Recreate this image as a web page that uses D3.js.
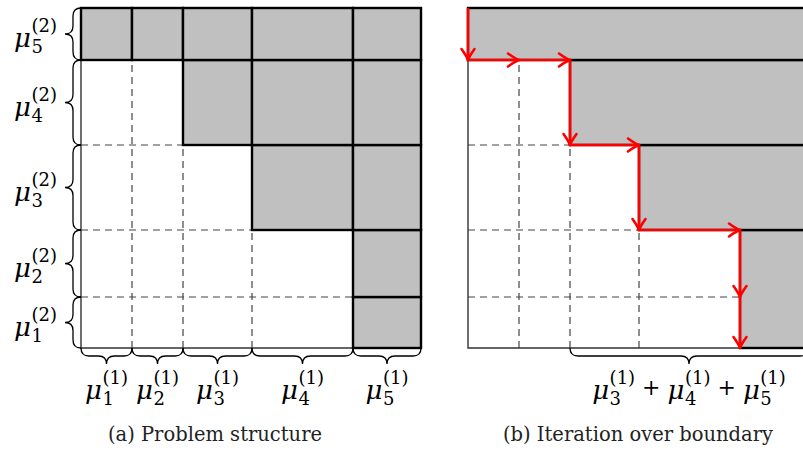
<!DOCTYPE html>
<html><head><meta charset="utf-8">
<script src="https://cdn.jsdelivr.net/npm/d3@7"></script>
<style>body{margin:0;background:#fff}</style>
</head><body>
<svg id="fig" width="803" height="452"></svg>
<script>
// Block sizes along each dimension (index 0 = block 1)
const mu1 = [51, 51, 69, 101, 68];   // column widths  μ^(1)_1..μ^(1)_5
const mu2 = [51, 67, 85, 85, 52];    // row heights    μ^(2)_1..μ^(2)_5 (bottom to top)
// First shaded column of every row, bottom to top
const firstShaded = [4, 4, 3, 2, 0];
const colIds = ["1", "2", "3", "4", "5"];
const rowIds = ["1", "2", "3", "4", "5"];
const bracedCols = [2, 3, 4];        // columns summed under panel (b)
const captions = ["(a) Problem structure", "(b) Iteration over boundary"];

const SERIF = "'DejaVu Serif', serif";
const svg = d3.select("#fig");

const colEdges = [0, ...d3.cumsum(mu1)];
const rowEdges = [0, ...d3.cumsum(mu2)];
const total = colEdges[colEdges.length - 1];

const y = d3.scaleLinear().domain([0, d3.sum(mu2)]).range([348, 8]);
const xa = d3.scaleLinear().domain([0, total]).range([81, 421]);
const xb = d3.scaleLinear().domain([0, total]).range([468, 808]);

const nR = mu2.length, nC = mu1.length;
const white = (r, c) => c < firstShaded[r];

// curly brace from p1 to p2, bulging along unit normal n
function bracePath(p1, p2, n, amp) {
  const dx = p2[0] - p1[0], dy = p2[1] - p1[1];
  const L = Math.hypot(dx, dy), ux = dx / L, uy = dy / L, r = amp / 2;
  const P = (u, v) => [p1[0] + u * ux + v * n[0], p1[1] + u * uy + v * n[1]].map(d => d.toFixed(2)).join(",");
  return `M${P(0,0)}Q${P(0,r)} ${P(r,r)}L${P(L/2-r,r)}Q${P(L/2,r)} ${P(L/2,2*r)}` +
         `Q${P(L/2,r)} ${P(L/2+r,r)}L${P(L-r,r)}Q${P(L,r)} ${P(L,0)}`;
}

// μ with subscript and superscript; returns its width
function muTerm(g, x, base, sub, sup) {
  const m = g.append("text").attr("x", x).attr("y", base)
    .attr("font-family", SERIF).attr("font-style", "italic").attr("font-size", 26).text("μ");
  const w = m.node().getComputedTextLength();
  const sx = x + w + 0.5;
  const tp = g.append("text").attr("x", sx).attr("y", base - 15)
    .attr("font-family", SERIF).attr("font-size", 18).text(`(${sup})`);
  const tb = g.append("text").attr("x", sx).attr("y", base + 6)
    .attr("font-family", SERIF).attr("font-size", 18).text(sub);
  return w + 0.5 + Math.max(tp.node().getComputedTextLength(), tb.node().getComputedTextLength());
}

// sum of μ terms, placed with its centre / right edge at x
function mathLabel(parent, x, base, terms, sup, anchor) {
  const g = parent.append("g");
  let cx = 0;
  terms.forEach((t, i) => {
    if (i > 0) {
      cx += 7;
      const p = g.append("text").attr("x", cx).attr("y", base - 4)
        .attr("font-family", SERIF).attr("font-size", 22).text("+");
      cx += p.node().getComputedTextLength() + 7;
    }
    cx += muTerm(g, cx, base, t, sup);
  });
  const dx = anchor === "middle" ? x - cx / 2 : x - cx;
  g.attr("transform", `translate(${dx},0)`);
}

function drawGrid(g, x) {
  // dashed lines between white cells
  const dash = g.append("g").attr("stroke", "#444").attr("stroke-width", 1.2)
    .attr("stroke-dasharray", "7,5").attr("fill", "none");
  for (let c = 1; c < nC; c++) {
    const rows = d3.range(nR).filter(r => white(r, c));
    if (rows.length) dash.append("line")
      .attr("x1", x(colEdges[c])).attr("x2", x(colEdges[c]))
      .attr("y1", y(0)).attr("y2", y(rowEdges[d3.max(rows) + 1]));
  }
  for (let r = 1; r < nR; r++) {
    const lim = Math.min(firstShaded[r - 1], firstShaded[r]);
    if (lim > 0) dash.append("line")
      .attr("x1", x(0)).attr("x2", x(colEdges[lim]))
      .attr("y1", y(rowEdges[r])).attr("y2", y(rowEdges[r]));
  }
  // outer left / bottom border of the white region
  const rowsWhite = d3.range(nR).filter(r => firstShaded[r] > 0);
  g.append("path").attr("fill", "none").attr("stroke", "#333").attr("stroke-width", 1.4)
    .attr("d", d3.line()([[x(0), y(rowEdges[d3.max(rowsWhite) + 1])], [x(0), y(0)], [x(colEdges[firstShaded[0]]), y(0)]]));
}

/* ---------- panel (a) ---------- */
const A = svg.append("g");
drawGrid(A, xa);
const cells = [];
for (let r = 0; r < nR; r++) for (let c = firstShaded[r]; c < nC; c++) cells.push({r, c});
A.selectAll("rect.cell").data(cells).join("rect").attr("class", "cell")
  .attr("x", d => xa(colEdges[d.c])).attr("width", d => xa(colEdges[d.c + 1]) - xa(colEdges[d.c]))
  .attr("y", d => y(rowEdges[d.r + 1])).attr("height", d => y(rowEdges[d.r]) - y(rowEdges[d.r + 1]))
  .attr("fill", "#c0c0c0").attr("stroke", "#000").attr("stroke-width", 2.4);

// row braces and labels
rowIds.forEach((id, r) => {
  A.append("path").attr("fill", "none").attr("stroke", "#000").attr("stroke-width", 1.3)
    .attr("d", bracePath([xa(0), y(rowEdges[r])], [xa(0), y(rowEdges[r + 1])], [-1, 0], 16));
  const cy = (y(rowEdges[r]) + y(rowEdges[r + 1])) / 2;
  mathLabel(A, 57, cy + 13, [id], "2", "end");
});
// column braces and labels
colIds.forEach((id, c) => {
  A.append("path").attr("fill", "none").attr("stroke", "#000").attr("stroke-width", 1.3)
    .attr("d", bracePath([xa(colEdges[c]), y(0)], [xa(colEdges[c + 1]), y(0)], [0, 1], 16));
  mathLabel(A, (xa(colEdges[c]) + xa(colEdges[c + 1])) / 2, 399, [id], "1", "middle");
});

/* ---------- panel (b) ---------- */
const B = svg.append("g");
drawGrid(B, xb);
// shaded strips: consecutive rows with the same first shaded column are merged
const strips = [];
for (let r = 0; r < nR; r++) {
  const last = strips[strips.length - 1];
  if (last && last.c === firstShaded[r]) last.r1 = r + 1;
  else strips.push({c: firstShaded[r], r0: r, r1: r + 1});
}
B.selectAll("rect.strip").data(strips).join("rect").attr("class", "strip")
  .attr("x", d => xb(colEdges[d.c])).attr("width", d => xb(total) - xb(colEdges[d.c]))
  .attr("y", d => y(rowEdges[d.r1])).attr("height", d => y(rowEdges[d.r0]) - y(rowEdges[d.r1]))
  .attr("fill", "#c0c0c0").attr("stroke", "#000").attr("stroke-width", 2.4);

// walk along the boundary, one block at a time
const pts = [[0, nR]];
let col = 0;
for (let r = nR - 1; r >= 0; r--) {
  while (col < firstShaded[r]) { col++; pts.push([col, r + 1]); }
  pts.push([col, r]);
}
const P = d => [xb(colEdges[d[0]]), y(rowEdges[d[1]])];
B.append("path").attr("fill", "none").attr("stroke", "#ff0000").attr("stroke-width", 2.6)
  .attr("d", d3.line()(pts.map(P)));
const heads = d3.pairs(pts).map(([a, b]) => {
  const p = P(a), q = P(b);
  return {x: q[0], y: q[1], ang: Math.atan2(q[1] - p[1], q[0] - p[0]) * 180 / Math.PI};
});
B.selectAll("path.head").data(heads).join("path").attr("class", "head")
  .attr("transform", d => `translate(${d.x},${d.y}) rotate(${d.ang})`)
  .attr("d", "M-11,-6.5Q-4,-1.5 0,0Q-4,1.5 -11,6.5")
  .attr("fill", "none").attr("stroke", "#ff0000").attr("stroke-width", 2.6)
  .attr("stroke-linecap", "round").attr("stroke-linejoin", "round");

// brace under the remaining columns
const bx0 = xb(colEdges[bracedCols[0]]), bx1 = xb(colEdges[bracedCols[bracedCols.length - 1] + 1]);
B.append("path").attr("fill", "none").attr("stroke", "#000").attr("stroke-width", 1.3)
  .attr("d", bracePath([bx0, y(0)], [bx1, y(0)], [0, 1], 16));
mathLabel(B, (bx0 + bx1) / 2, 399, bracedCols.map(c => colIds[c]), "1", "middle");

/* ---------- captions ---------- */
svg.selectAll("text.cap").data(captions).join("text").attr("class", "cap")
  .attr("x", (d, i) => [215, 638][i]).attr("y", 441).attr("text-anchor", "middle")
  .attr("font-family", SERIF).attr("font-size", 19.5).attr("fill", "#222").text(d => d);
</script>
</body></html>
